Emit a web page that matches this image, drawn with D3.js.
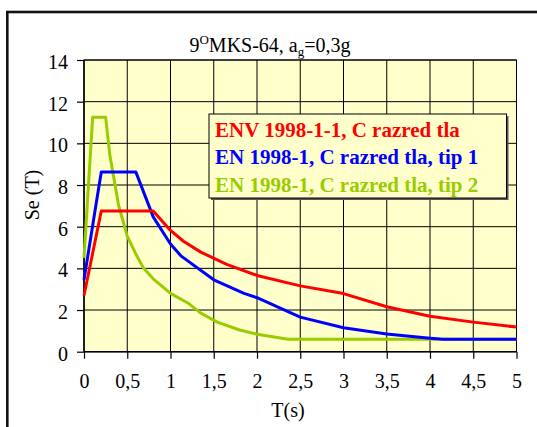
<!DOCTYPE html>
<html>
<head>
<meta charset="utf-8">
<script src="https://cdn.jsdelivr.net/npm/d3@7"></script>
<style>
  html, body { margin: 0; padding: 0; background: #ffffff; }
  svg { display: block; }
  svg text { font-family: "Liberation Serif", "Times New Roman", Tinos, "DejaVu Serif", serif !important; }
</style>
</head>
<body>
<svg id="chart" width="537" height="427"></svg>
<script>
// ---- data ----
const xTicks = [0, 0.5, 1, 1.5, 2, 2.5, 3, 3.5, 4, 4.5, 5];
const xTickLabels = ["0", "0,5", "1", "1,5", "2", "2,5", "3", "3,5", "4", "4,5", "5"];
const yTicks = [0, 2, 4, 6, 8, 10, 12, 14];

const seriesNames = [
  "ENV 1998-1-1, C razred tla",
  "EN 1998-1, C razred tla, tip 1",
  "EN 1998-1, C razred tla, tip 2"
];

const envT  = [0, 0.2, 0.8, 1.0, 1.15, 1.35, 1.65, 2.0, 2.5, 3.0, 3.5, 4.0, 4.5, 5.0];
const envSe = [2.7, 6.75, 6.75, 5.82, 5.3, 4.78, 4.19, 3.66, 3.16, 2.79, 2.16, 1.7, 1.42, 1.18];

const tip1T  = [0, 0.15, 0.2, 0.6, 0.8, 1.0, 1.12, 1.5, 1.85, 2.0, 2.5, 3.0, 3.5, 4.0, 4.15, 5.0];
const tip1Se = [3.45, 7.35, 8.62, 8.62, 6.47, 5.17, 4.6, 3.45, 2.8, 2.59, 1.66, 1.15, 0.85, 0.65, 0.6, 0.6];

const tip2T  = [0, 0.1, 0.25, 0.3, 0.4, 0.5, 0.6, 0.69, 0.8, 1.0, 1.2, 1.35, 1.54, 1.8, 2.0, 2.36, 5.0];
const tip2Se = [4.5, 11.25, 11.25, 9.4, 7.03, 5.55, 4.68, 4.0, 3.5, 2.8, 2.34, 1.85, 1.42, 1.04, 0.84, 0.6, 0.6];

const colors = ["#FF0000", "#0000FF", "#99CC00"];

// ---- layout ----
const svg = d3.select("#chart");
const plot = { left: 84, right: 516.5, top: 60, bottom: 351.7 };
const serif = '"Liberation Serif", "Times New Roman", Tinos, "DejaVu Serif", serif';

const x = d3.scaleLinear().domain([0, 5]).range([plot.left, plot.right]);
const y = d3.scaleLinear().domain([0, 14]).range([plot.bottom, plot.top]);

// outer frame
svg.append("rect")
  .attr("x", 7.3).attr("y", 12)
  .attr("width", 700).attr("height", 600)
  .attr("fill", "none")
  .attr("stroke", "#111")
  .attr("stroke-width", 2.6);

// plot background
svg.append("rect")
  .attr("x", plot.left).attr("y", plot.top)
  .attr("width", plot.right - plot.left).attr("height", plot.bottom - plot.top)
  .attr("fill", "#FFFFCC");

// grid
const g = svg.append("g");
g.selectAll("line.vg").data(xTicks.slice(1)).enter().append("line")
  .attr("x1", d => x(d)).attr("x2", d => x(d))
  .attr("y1", plot.top).attr("y2", plot.bottom)
  .attr("stroke", "#000").attr("stroke-width", 1);
g.selectAll("line.hg").data(yTicks.slice(1)).enter().append("line")
  .attr("x1", plot.left).attr("x2", plot.right)
  .attr("y1", d => y(d)).attr("y2", d => y(d))
  .attr("stroke", "#000").attr("stroke-width", 1);

// axes
const xAxis = d3.axisBottom(x).tickValues(xTicks).tickFormat((d, i) => xTickLabels[i]).tickSize(7).tickPadding(15);
const yAxis = d3.axisLeft(y).tickValues(yTicks).tickSize(7).tickPadding(9);

const gx = svg.append("g").attr("transform", `translate(0,${plot.bottom})`).call(xAxis);
const gy = svg.append("g").attr("transform", `translate(${plot.left},0)`).call(yAxis);
[gx, gy].forEach(a => {
  a.attr("font-family", null).attr("font-size", null);
  a.select(".domain").remove();
  a.selectAll("line").attr("stroke", "#000").attr("stroke-width", 1.2);
  a.selectAll("text").attr("fill", "#000").style("font-size", "20px")
    .style("font-family", serif);
});
gy.selectAll("text").attr("dy", "0.42em");
gx.selectAll("text").attr("dy", "0.71em");

// axis lines (left and bottom)
svg.append("line").attr("x1", plot.left).attr("x2", plot.left)
  .attr("y1", plot.top).attr("y2", plot.bottom).attr("stroke", "#000").attr("stroke-width", 1.5);
svg.append("line").attr("x1", plot.left).attr("x2", plot.right)
  .attr("y1", plot.bottom).attr("y2", plot.bottom).attr("stroke", "#000").attr("stroke-width", 1.5);
svg.append("rect")
  .attr("x", plot.left).attr("y", plot.top)
  .attr("width", plot.right - plot.left).attr("height", plot.bottom - plot.top)
  .attr("fill", "none").attr("stroke", "#000").attr("stroke-width", 1);

// series lines
const line = d3.line().x(d => x(d[0])).y(d => y(d[1]));
const seriesData = [
  d3.zip(envT, envSe),
  d3.zip(tip1T, tip1Se),
  d3.zip(tip2T, tip2Se)
];
const drawOrder = [2, 1, 0];
drawOrder.forEach(i => {
  svg.append("path")
    .datum(seriesData[i])
    .attr("d", line)
    .attr("fill", "none")
    .attr("stroke", colors[i])
    .attr("stroke-width", 3)
    .attr("stroke-linejoin", "round");
});

// title
const title = svg.append("text")
  .attr("x", 270).attr("y", 51.5)
  .attr("text-anchor", "middle")
  .style("font-family", serif)
  .style("font-size", "20px").attr("fill", "#000");
title.append("tspan").text("9");
title.append("tspan").attr("dy", -8).style("font-size", "13px").text("O");
title.append("tspan").attr("dy", 8).text("MKS-64, a");
title.append("tspan").attr("dy", 4).style("font-size", "13px").text("g");
title.append("tspan").attr("dy", -4).text("=0,3g");

// axis titles
svg.append("text")
  .attr("transform", "translate(39,195) rotate(-90)")
  .attr("text-anchor", "middle")
  .style("font-family", serif)
  .style("font-size", "20px").attr("fill", "#000")
  .text("Se (T)");
svg.append("text")
  .attr("x", 288).attr("y", 416.5)
  .attr("text-anchor", "middle")
  .style("font-family", serif)
  .style("font-size", "20px").attr("fill", "#000")
  .text("T(s)");

// legend
const lg = { x: 209, y: 114, w: 297.5, h: 84 };
svg.append("rect")
  .attr("x", lg.x + 2).attr("y", lg.y + 2)
  .attr("width", lg.w).attr("height", lg.h)
  .attr("fill", "#555");
svg.append("rect")
  .attr("x", lg.x).attr("y", lg.y)
  .attr("width", lg.w).attr("height", lg.h)
  .attr("fill", "#FFFFCC").attr("stroke", "#000").attr("stroke-width", 1);
const baselines = [136.7, 164.2, 192];
seriesNames.forEach((name, i) => {
  svg.append("text")
    .attr("x", lg.x + 6).attr("y", baselines[i])
    .style("font-family", serif)
    .style("font-size", "21px").style("font-weight", "bold")
    .attr("fill", colors[i])
    .text(name);
});
</script>
</body>
</html>
